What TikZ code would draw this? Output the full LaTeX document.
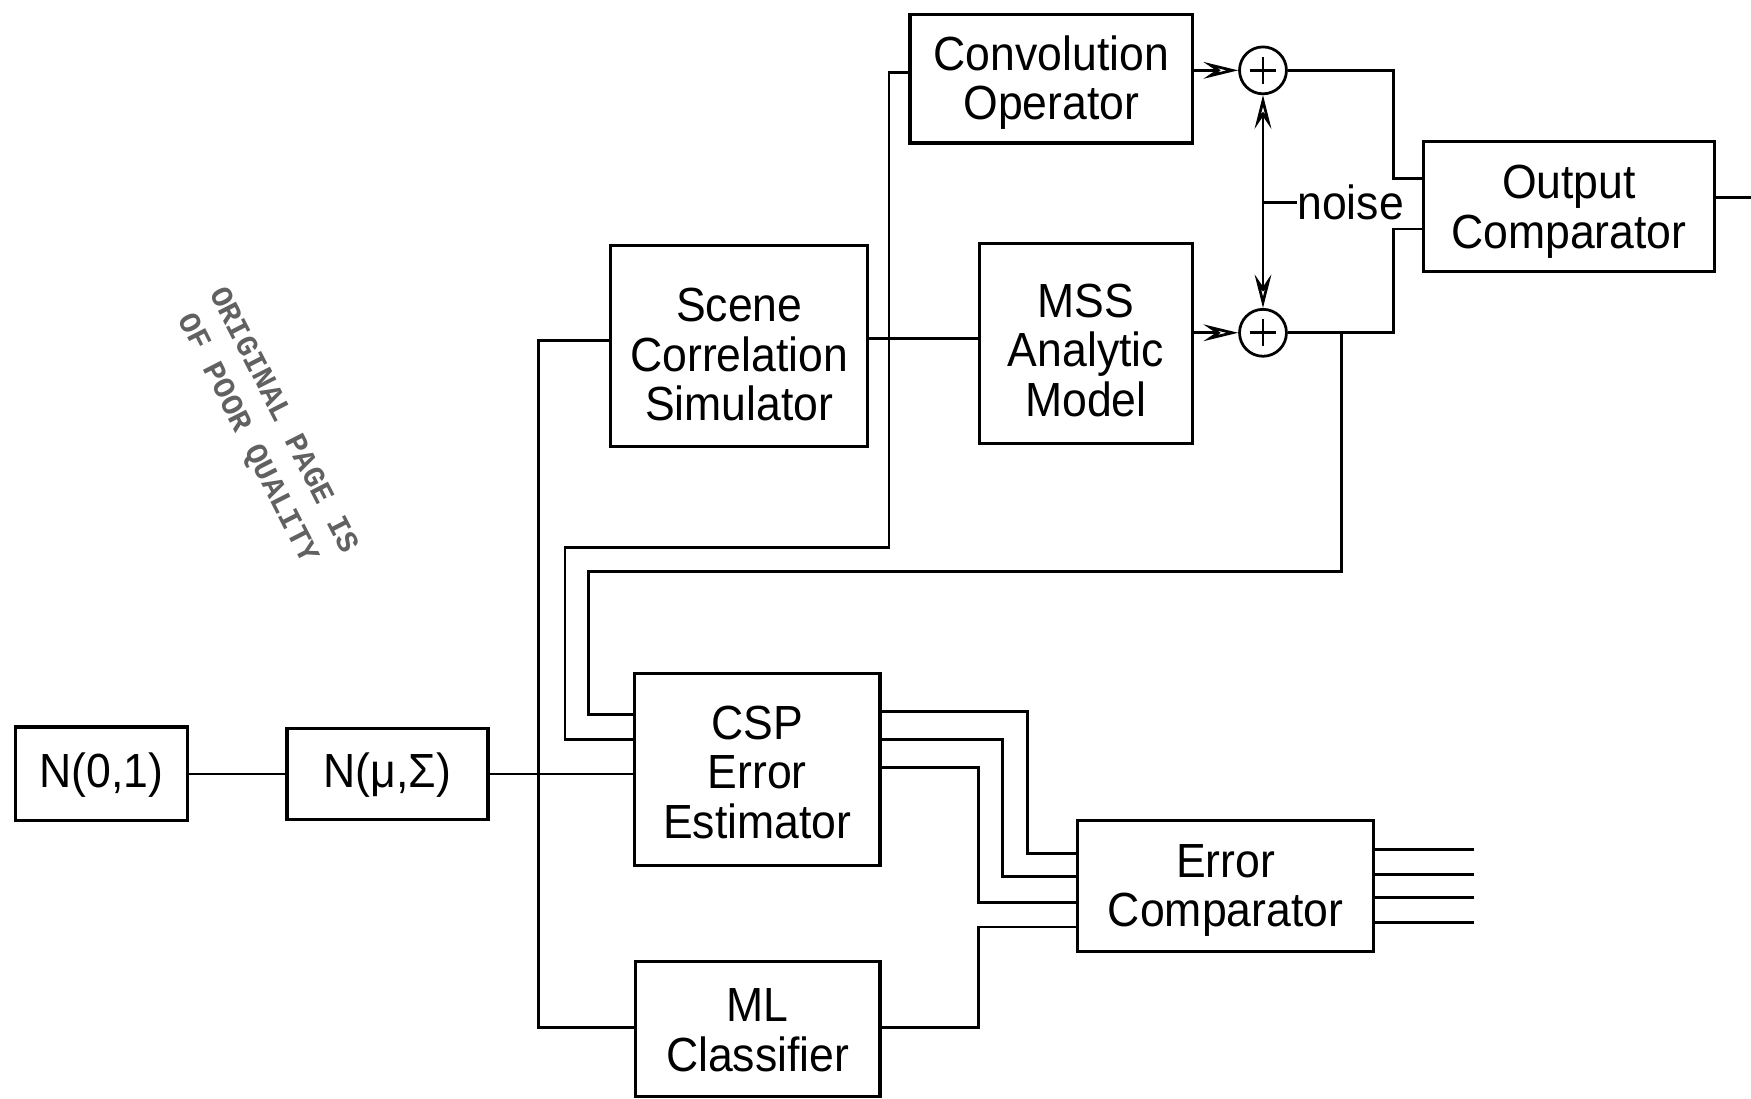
\documentclass[tikz,border=0pt]{standalone}
\usepackage{fontspec}
\setmainfont{Liberation Sans}[FakeStretch=0.93]
\newfontfamily\stampfont{Liberation Mono}
\usetikzlibrary{arrows.meta,calc}
\tikzset{
  blk/.style={draw, line width=0.8pt, inner sep=0pt},
  txt/.style={inner sep=0pt, align=center, font=\fontsize{12.2pt}{12.6pt}\selectfont},
  wire/.style={line width=0.7pt},
  sumnode/.style={draw, circle, line width=0.7pt, minimum size=0.42cm, inner sep=0pt},
  tip/.style={-{Stealth[open, length=3.1mm, width=1.5mm, inset=1.1mm]}},
  tips/.style={{Stealth[open, length=3.0mm, width=1.5mm, inset=1.1mm]}-{Stealth[open, length=3.0mm, width=1.5mm, inset=1.1mm]}},
}
\begin{document}
\begin{tikzpicture}[x=0.01cm,y=-0.01cm]
\useasboundingbox (0,0) rectangle (1568,984);

% blocks
\node[blk, minimum width=1.54cm, minimum height=0.84cm] (n01) at (91,693) {};
\node[blk, minimum width=1.80cm, minimum height=0.82cm] (nmu) at (347,693) {};
\node[blk, minimum width=2.30cm, minimum height=1.80cm] (scs) at (662,310) {};
\node[blk, minimum width=2.53cm, minimum height=1.15cm] (conv) at (941.5,70.5) {};
\node[blk, minimum width=1.91cm, minimum height=1.79cm] (mss) at (972.5,307.5) {};
\node[blk, minimum width=2.60cm, minimum height=1.16cm] (outc) at (1405,185) {};
\node[blk, minimum width=2.20cm, minimum height=1.72cm] (csp) at (678,689) {};
\node[blk, minimum width=2.19cm, minimum height=1.21cm] (ml) at (678.5,921.5) {};
\node[blk, minimum width=2.65cm, minimum height=1.17cm] (errc) at (1097.5,793.5) {};

% block texts
\node[txt] (n01-t)  at ([yshift=-0.01cm]n01.center) {N(0,1)};
\node[txt] (nmu-t)  at ([yshift=-0.01cm]nmu.center) {N(μ,Σ)};
\node[txt] (scs-t)  at ([yshift=-0.075cm]scs.center) {Scene\\Correlation\\Simulator};
\node[txt] (conv-t) at ([yshift=-0.035cm]conv.center) {Convolution\\Operator};
\node[txt] (mss-t)  at ([yshift=-0.06cm]mss.center) {MSS\\Analytic\\Model};
\node[txt] (outc-t) at ([yshift=-0.045cm]outc.center) {Output\\Comparator};
\node[txt] (csp-t)  at ([yshift=-0.025cm]csp.center) {CSP\\Error\\Estimator};
\node[txt] (ml-t)   at ([yshift=-0.01cm]ml.center) {ML\\Classifier};
\node[txt] (errc-t) at ([yshift=-0.04cm]errc.center) {Error\\Comparator};

% summing junctions
\node[sumnode] (s1) at (1131,63) {};
\node[sumnode] (s2) at (1131,298) {};
\foreach \s in {s1,s2}{
  \draw[wire] ($(\s)+(-12,0)$) -- ($(\s)+(12,0)$);
  \draw[wire] ($(\s)+(0,-12)$) -- ($(\s)+(0,12)$);
}

% noise label
\node[txt, anchor=west] (noise) at (1161,181) {noise};
\coordinate (nz) at (1131,181);

% helper levels
\foreach \y in {65,160,177,205,303,305,637,640,662,687,693,764,785,808,830,920,761,783,804,826}{
  \coordinate (h\y) at (0,\y);
}
\coordinate (oend) at (1568,177);

% connections
\draw[wire] (n01.east) -- (nmu.west);
\draw[wire] (nmu.east) -- (nmu.east -| csp.west);

\draw[wire] (ml.west |- h920) -| (482,305) -- (scs.west |- h305);
\draw[wire] (scs.east |- h303) -- (mss.west |- h303);

\draw[wire] (csp.west |- h662) -- (506,662) -- (506,490) -- (796,490) -- (796,65) -- (conv.west |- h65);

\draw[wire,tip] (conv.east |- s1) -- (s1.west);
\draw[wire,tip] (mss.east |- s2) -- (s2.west);
\draw[wire,tips] (s1.south) -- (s2.north);
\draw[wire] (nz) -- (noise.west);

\draw[wire] (s1.east) -- (1248,63) -- (1248,160) -- (outc.west |- h160);
\draw[wire] (s2.east) -- (1248,298) -- (1248,205) -- (outc.west |- h205);
\coordinate (j1) at (1201,298);
\draw[wire] (j1) -- (1201,512) -- (527,512) -- (527,640) -- (csp.west |- h640);
\draw[wire] (outc.east |- h177) -- (oend);

\draw[wire] (csp.east |- h637) -| (920,764) -- (errc.west |- h764);
\draw[wire] (csp.east |- h662) -| (898,785) -- (errc.west |- h785);
\draw[wire] (csp.east |- h687) -| (876,808) -- (errc.west |- h808);
\draw[wire] (ml.east |- h920) -| (876,830) -- (errc.west |- h830);

\foreach \y in {761,783,804,826}{
  \coordinate (e\y) at (1320,\y);
  \draw[wire] (errc.east |- h\y) -- (e\y);
}

% stamp
\node[rotate=-63, align=center, text=black!62, inner sep=0pt,
  font=\stampfont\bfseries\fontsize{7.8pt}{10.2pt}\selectfont] (stamp) at (237,385)
  {ORIGINAL PAGE IS\\OF POOR QUALITY};
\end{tikzpicture}
\end{document}
